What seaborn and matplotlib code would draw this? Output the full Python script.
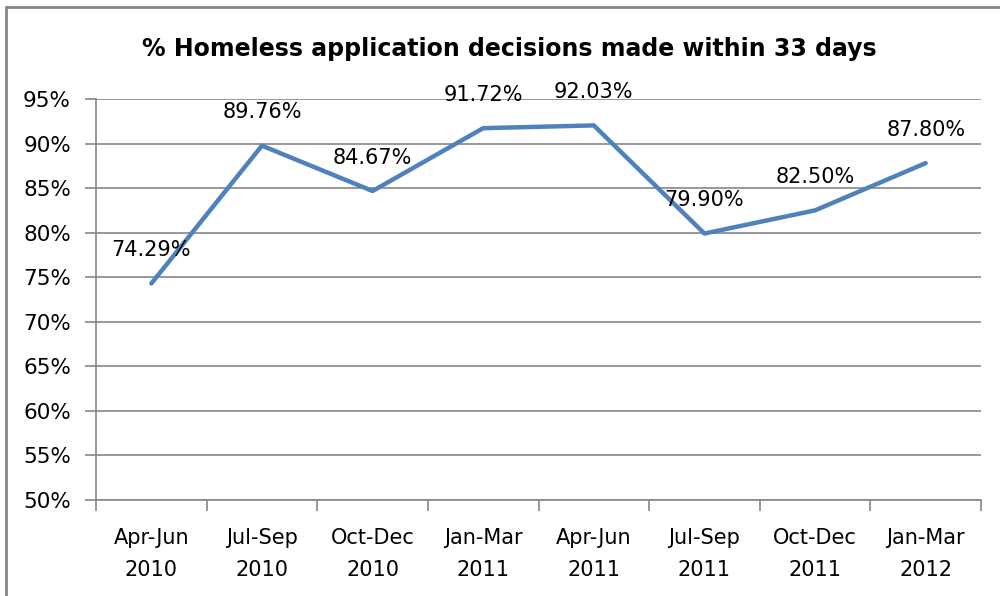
import matplotlib
matplotlib.use("Agg")
import matplotlib.pyplot as plt
from matplotlib.ticker import FixedLocator, FuncFormatter
import seaborn as sns
import pandas as pd

categories = ["Apr-Jun\n2010", "Jul-Sep\n2010", "Oct-Dec\n2010", "Jan-Mar\n2011",
              "Apr-Jun\n2011", "Jul-Sep\n2011", "Oct-Dec\n2011", "Jan-Mar\n2012"]
values = [74.29, 89.76, 84.67, 91.72, 92.03, 79.90, 82.50, 87.80]
value_labels = ["74.29%", "89.76%", "84.67%", "91.72%", "92.03%", "79.90%", "82.50%", "87.80%"]
y_ticks = [50, 55, 60, 65, 70, 75, 80, 85, 90, 95]
title = "% Homeless application decisions made within 33 days"

sns.set_style("white")
plt.rcParams["font.family"] = ["DejaVu Sans"]
plt.rcParams["text.color"] = "black"
plt.rcParams["xtick.color"] = "black"
plt.rcParams["ytick.color"] = "black"

df = pd.DataFrame({"idx": range(len(categories)), "value": values})

fig = plt.figure(figsize=(10, 5.96), dpi=100)
ax = fig.add_axes([0.096, 0.161, 0.885, 0.673])
sns.lineplot(data=df, x="idx", y="value", ax=ax, color="#4F81BD", linewidth=3.2,
             solid_joinstyle="round", solid_capstyle="round")

for i, (v, lab) in enumerate(zip(values, value_labels)):
    ax.annotate(lab, (i, v), xytext=(0, 24), textcoords="offset points",
                ha="center", va="center", fontsize=15, color="black")

ax.set_xlim(-0.5, len(categories) - 0.5)
ax.set_ylim(50, 95)
ax.set_yticks(y_ticks)
ax.yaxis.set_major_formatter(FuncFormatter(lambda v, p: f"{int(v)}%"))
ax.set_xticks(range(len(categories)))
ax.set_xticklabels(categories, fontsize=15, linespacing=1.75)
ax.xaxis.set_minor_locator(FixedLocator([i - 0.5 for i in range(len(categories) + 1)]))
ax.tick_params(axis="x", which="major", bottom=True, length=0, pad=20, labelcolor="black")
ax.tick_params(axis="x", which="minor", bottom=True, length=8, width=1.2, color="#868686",
               direction="out")
ax.tick_params(axis="y", which="major", left=True, length=8, width=1.2, color="#868686",
               direction="out", labelsize=15.5, pad=10, labelcolor="black")
ax.grid(axis="y", color="#868686", linewidth=1.2)
ax.set_axisbelow(True)
for s in ["top", "right"]:
    ax.spines[s].set_visible(False)
for s in ["left", "bottom"]:
    ax.spines[s].set_color("#868686")
    ax.spines[s].set_linewidth(1.2)
ax.set_xlabel("")
ax.set_ylabel("")

fig.text(0.509, 0.918, title, ha="center", va="center", fontsize=17, fontweight="bold",
         color="black")

# outer chart border
fig.add_artist(plt.Line2D([0.006, 0.006], [0.0, 0.988], transform=fig.transFigure,
                          color="#868686", linewidth=2))
fig.add_artist(plt.Line2D([0.006, 1.0], [0.988, 0.988], transform=fig.transFigure,
                          color="#868686", linewidth=2))

fig.savefig("out.png", dpi=100)
